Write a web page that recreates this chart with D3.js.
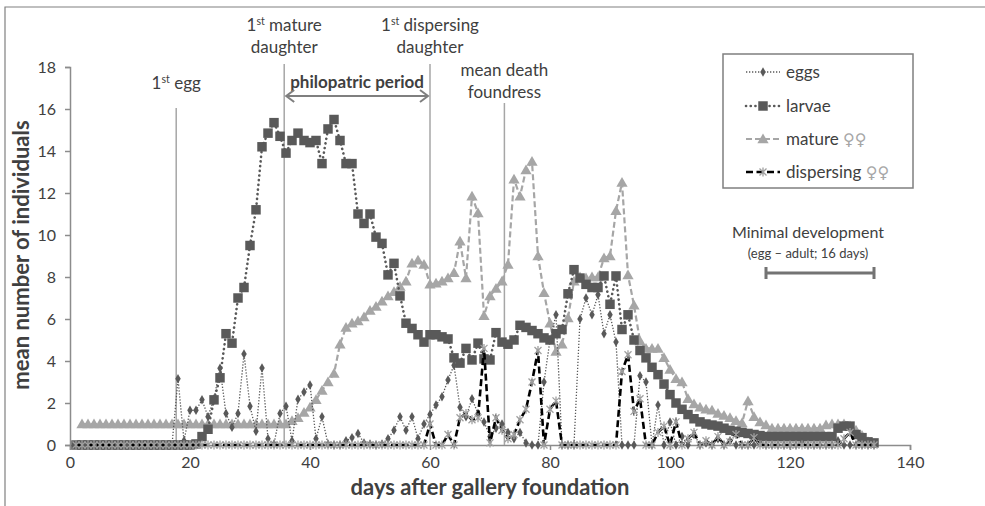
<!DOCTYPE html>
<html><head><meta charset="utf-8">
<script src="https://cdn.jsdelivr.net/npm/d3@7/dist/d3.min.js"></script>
<style>
body{margin:0;background:#fff}
svg{display:block}
text{font-family:Lato,"Open Sans",sans-serif;fill:#404040}
</style>
</head><body>
<svg id="c" width="985" height="506"></svg>
<script>
// ---- data (day 1 .. 134) ----
const days = d3.range(1, 135);
const eggs = [0,0,0,0,0,0,0,0,0,0,
0,0,0,0,0,0,0,3.15,0.2,1.65,
1.65,2.15,1.35,2.2,3.65,1.5,0.85,1.5,4.33,1.85,
0.65,3.67,0.3,0.05,1.5,1.85,0.2,2.18,2.52,2.86,
0.3,1.34,0.05,0,0,0.2,0.35,0.55,0.1,0.05,
0,0.05,0.3,0.7,1.35,0.7,1.35,0.3,1.0,1.45,
1.9,2.3,3.1,3.8,1.8,1.35,2.2,1.5,1.1,0.4,
0.8,1.0,0.6,0.3,0.6,0.1,0,0,3.0,5.0,
6.2,0,0,0,6.0,7.0,6.2,7.15,5.3,6.2,
4.9,0,0,0,3.3,3.0,0,1.9,0,1.1,
0,0.4,0,0.5,0,0.1,0,0.3,0,0.2,
0,0,0,0,0.1,0,0,0,0,0,
0,0.1,0,0,0,0,0,0.2,0,0,
0,0,0,0];
const larvae = [0,0,0,0,0,0,0,0,0,0,
0,0,0,0,0,0,0,0,0,0,
0.05,0.4,0.75,2.15,3.2,5.3,4.85,7.0,7.5,9.5,
11.2,14.2,14.85,15.35,14.7,13.9,14.5,14.85,14.5,14.4,
14.5,13.4,15.05,15.5,14.5,13.4,13.4,11.0,10.55,11.0,
9.9,9.6,8.1,8.65,7.1,5.8,5.55,5.25,4.9,5.25,
5.25,5.15,5.05,4.15,3.9,4.6,4.05,4.85,4.1,4.05,
5.35,4.9,4.8,5.0,5.7,5.6,5.45,5.3,5.1,5.0,
5.3,5.5,7.2,8.35,7.95,7.65,7.5,7.5,8.05,6.7,
8.05,5.5,6.2,5.0,4.5,4.15,3.7,3.35,2.9,2.4,
2.0,1.7,1.45,1.25,1.1,1.0,0.95,0.9,0.8,0.7,
0.65,0.6,0.55,0.5,0.45,0.4,0.4,0.4,0.4,0.4,
0.4,0.4,0.4,0.4,0.4,0.4,0.4,0.8,0.9,0.9,
0.5,0.35,0.15,0.1];
const mature = [null,1,1,1,1,1,1,1,1,1,
1,1,1,1,1,1,1,1,1,1,
1,1,1,1,1,1,1,1,1,1,
1,1,1,1,1,1,1.15,1.3,1.55,1.8,
2.15,2.6,3.0,3.4,4.8,5.6,5.8,5.9,6.1,6.4,
6.6,6.85,7.1,7.3,7.55,7.8,8.65,8.8,8.6,7.65,
7.7,7.8,7.95,8.2,9.7,7.95,11.85,11.05,6.15,7.1,
7.45,7.8,8.6,12.65,11.85,13.1,13.5,9.0,7.25,5.8,
4.45,4.8,6.05,7.8,8.0,7.95,8.0,8.0,8.9,9.0,
11.15,12.5,8.1,6.65,4.95,4.6,4.6,4.6,4.15,3.6,
3.15,3.0,2.2,1.95,1.8,1.7,1.65,1.5,1.4,1.3,
1.15,1.05,2.1,1.35,1.1,0.95,0.8,0.8,0.8,0.8,
0.8,0.8,0.8,0.8,0.8,0.95,1.0,1.0,1.0,0.9,
0.7,0.45,0.15,null];
const dispersing = [0,0,0,0,0,0,0,0,0,0,
0,0,0,0,0,0,0,0,0,0,
0,0,0,0,0,0,0,0,0,0,
0,0,0,0,0,0,0,0,0,0,
0,0,0,0,0,0,0,0,0,0,
0,0,0,0,0,0,0,0,0,1.0,
0,0,0.5,0,1.3,1.5,1.2,1.3,4.6,0.1,
1.3,0.7,0.3,0.5,1.2,1.7,3.0,4.5,0,1.7,
2.1,0,0,0,0,0,0,0,0,0,
0,3.5,4.3,1.6,2.2,0,0,0.6,0.9,0,
1.1,0,0.3,0.6,0,0.2,0,0.4,0,0.15,
0.5,0,0,0.35,0,0,0,0,0,0,
0,0,0,0,0,0,0,0,0.3,0.6,
0,0,0,0];
const xTicks = [0,20,40,60,80,100,120,140];
const yTicks = [0,2,4,6,8,10,12,14,16,18];
const eventDays = [17.7, 35.7, 60, 72.4];

// ---- drawing ----
const svg = d3.select("#c");
const x = d3.scaleLinear().domain([0,140]).range([70,910]);
const y = d3.scaleLinear().domain([0,18]).range([445,67]);

// outer frame
svg.append("path").attr("d","M5,520V7H990").attr("fill","none").attr("stroke","#808080").attr("stroke-width",1.2);

// axes
const axisCol = "#8c8c8c";
const gy = svg.append("g").attr("transform",`translate(${x(0)},0)`)
  .call(d3.axisLeft(y).tickValues(yTicks).tickSize(5).tickPadding(9).tickFormat(d3.format("d")));
const gx = svg.append("g").attr("transform",`translate(0,${y(0)})`)
  .call(d3.axisBottom(x).tickValues(xTicks).tickSize(5).tickPadding(7).tickFormat(d3.format("d")));
[gx,gy].forEach(g=>{
  g.select(".domain").attr("stroke",axisCol).attr("stroke-width",1.5);
  g.selectAll(".tick line").attr("stroke",axisCol).attr("stroke-width",1.5);
  g.selectAll(".tick text").attr("font-size",16).attr("fill","#404040").style("font-family","Lato");
});

// axis titles
svg.append("text").attr("x",490).attr("y",495).attr("text-anchor","middle")
  .attr("font-size",22).attr("font-weight","bold").attr("fill","#262626").text("days after gallery foundation");
svg.append("text").attr("transform","translate(29,255) rotate(-90)").attr("text-anchor","middle")
  .attr("font-size",22).attr("font-weight","bold").attr("fill","#262626").text("mean number of individuals");

// event lines
const tops = [108, 64, 64, 103];
eventDays.forEach((d,i)=>{
  svg.append("line").attr("x1",x(d)).attr("x2",x(d)).attr("y1",tops[i]).attr("y2",y(0))
    .attr("stroke","#a6a6a6").attr("stroke-width",1.5);
});

function sup(xx, yy, rest, size){
  const tx = svg.append("text").attr("x",xx).attr("y",yy).attr("text-anchor","middle").attr("font-size",size);
  tx.append("tspan").text("1");
  tx.append("tspan").attr("font-size",size*0.62).attr("dy",-6).text("st");
  tx.append("tspan").attr("dy",6).text(rest);
}
sup(x(eventDays[0]), 89, " egg", 17);
sup(x(eventDays[1]), 31, " mature", 17);
svg.append("text").attr("x",x(eventDays[1])).attr("y",53).attr("text-anchor","middle").attr("font-size",17).text("daughter");
sup(x(eventDays[2]), 31, " dispersing", 17);
svg.append("text").attr("x",x(eventDays[2])).attr("y",53).attr("text-anchor","middle").attr("font-size",17).text("daughter");
svg.append("text").attr("x",x(eventDays[3])).attr("y",76).attr("text-anchor","middle").attr("font-size",17).text("mean death");
svg.append("text").attr("x",x(eventDays[3])).attr("y",98).attr("text-anchor","middle").attr("font-size",17).text("foundress");

// philopatric period
svg.append("text").attr("x",(x(eventDays[1])+x(eventDays[2]))/2).attr("y",88).attr("text-anchor","middle")
  .attr("font-size",17).attr("font-weight","bold").attr("fill","#262626").text("philopatric period");
const ay = 96, ax1 = x(eventDays[1])+2, ax2 = x(eventDays[2])-2;
svg.append("path").attr("d",`M${ax1},${ay}H${ax2}M${ax1+8},${ay-6}L${ax1},${ay}L${ax1+8},${ay+6}M${ax2-8},${ay-6}L${ax2},${ay}L${ax2-8},${ay+6}`)
  .attr("fill","none").attr("stroke","#7f7f7f").attr("stroke-width",2);

// minimal development
svg.append("text").attr("x",808).attr("y",238).attr("text-anchor","middle").attr("font-size",16).text("Minimal development");
svg.append("text").attr("x",808).attr("y",258).attr("text-anchor","middle").attr("font-size",13).text("(egg \u2013 adult; 16 days)");
const b1 = x(116), b2 = x(134), by = 273;
svg.append("path").attr("d",`M${b1},${by}H${b2}M${b1},${by-6}V${by+6}M${b2},${by-6}V${by+6}`)
  .attr("fill","none").attr("stroke","#737373").attr("stroke-width",3);

// series styles
const series = [
  {name:"mature", vals:mature, line:"#a6a6a6", w:2.2, dash:"6,3", cap:"butt", sym:"tri", fill:"#a6a6a6"},
  {name:"larvae", vals:larvae, line:"#595959", w:2.6, dash:"0.1,4.6", cap:"round", sym:"sq", fill:"#595959"},
  {name:"eggs", vals:eggs, line:"#595959", w:1.3, dash:"1.3,1.7", cap:"butt", sym:"dia", fill:"#595959"},
  {name:"dispersing", vals:dispersing, line:"#000", w:2.6, dash:"7,3.5", cap:"butt", sym:"ast", fill:"#a0a0a0"}
];
function marker(g, type, cx, cy, fill){
  if(type==="tri") g.append("path").attr("d",d3.symbol(d3.symbolTriangle,55)()).attr("transform",`translate(${cx},${cy+1})`).attr("fill",fill);
  else if(type==="sq") g.append("path").attr("d",d3.symbol(d3.symbolSquare,90)()).attr("transform",`translate(${cx},${cy})`).attr("fill",fill);
  else if(type==="dia") g.append("path").attr("d",d3.symbol(d3.symbolDiamond,26)()).attr("transform",`translate(${cx},${cy})`).attr("fill",fill);
  else g.append("path").attr("d","M-3.5,-3.5L3.5,3.5M-3.5,3.5L3.5,-3.5M0,-4.5V4.5").attr("transform",`translate(${cx},${cy})`)
      .attr("stroke",fill).attr("stroke-width",1.3).attr("fill","none");
}
series.forEach(s=>{
  const g = svg.append("g");
  const pts = days.map((d,i)=>({d, v:s.vals[i]}));
  const line = d3.line().defined(p=>p.v!==null).x(p=>x(p.d)).y(p=>y(p.v));
  g.append("path").attr("d",line(pts)).attr("fill","none").attr("stroke",s.line).attr("stroke-width",s.w)
    .attr("stroke-dasharray",s.dash).attr("stroke-linecap",s.cap);
  pts.filter(p=>p.v!==null).forEach(p=>marker(g, s.sym, x(p.d), y(p.v), s.fill));
});

// legend
svg.append("rect").attr("x",723).attr("y",54).attr("width",190).attr("height",134)
  .attr("fill","#fff").attr("stroke","#7f7f7f").attr("stroke-width",1.5);
const legY = [72,106,139,172];
const legLabels = ["eggs","larvae","mature ","dispersing "];
const legOrder = [2,1,0,3];
legOrder.forEach((si,k)=>{
  const s = series[si]; const ly = legY[k];
  svg.append("path").attr("d",`M746,${ly}H780`).attr("stroke",s.line).attr("stroke-width",s.w)
    .attr("stroke-dasharray",s.dash).attr("stroke-linecap",s.cap).attr("fill","none");
  marker(svg, s.sym, 763, ly, s.fill);
  const t = svg.append("text").attr("x",786).attr("y",ly+6).attr("font-size",17).text(legLabels[k]);
  if(k>=2) t.append("tspan").attr("fill","#a6a6a6").style("font-family","DejaVu Sans").attr("font-size",16).text("\u2640\u2640");
});
</script>
</body></html>
